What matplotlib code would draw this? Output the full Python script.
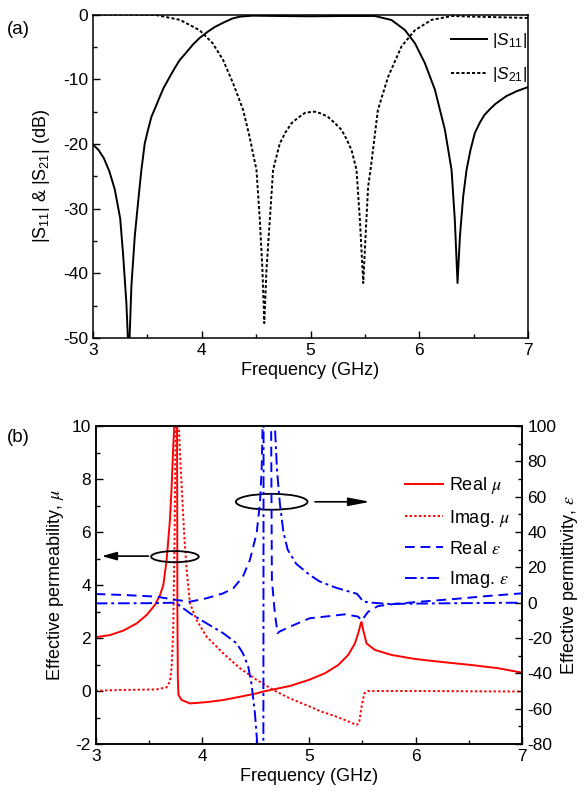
import matplotlib
matplotlib.use("Agg")
import matplotlib.pyplot as plt
from matplotlib.patches import Ellipse
from matplotlib.ticker import MultipleLocator

plt.rcParams['font.family'] = ['Liberation Sans', 'DejaVu Sans']
plt.rcParams['mathtext.fontset'] = 'custom'
plt.rcParams['mathtext.rm'] = 'Liberation Sans'
plt.rcParams['mathtext.it'] = 'Liberation Sans:italic'
plt.rcParams['axes.unicode_minus'] = False

# ---------------- (a) S-parameters ----------------
s11_f = [3.0, 3.05, 3.1, 3.15, 3.2, 3.25, 3.276, 3.307, 3.322, 3.337, 3.353, 3.384, 3.414,
         3.445, 3.476, 3.5, 3.537, 3.57, 3.614, 3.65, 3.706, 3.75, 3.798, 3.85, 3.92, 3.98,
         4.058, 4.12, 4.196, 4.28, 4.35, 4.47, 4.7, 5.0, 5.3, 5.59, 5.745, 5.868, 5.96, 6.052,
         6.144, 6.236, 6.297, 6.327, 6.352, 6.374, 6.404, 6.435, 6.47, 6.511, 6.56, 6.6, 6.65,
         6.7, 6.8, 6.9, 7.0]
s11_db = [-20.1, -20.9, -22.2, -24.2, -27.0, -31.5, -36.9, -44.6, -50.5, -49.8, -42.0, -34.3, -29.1,
          -24.0, -19.9, -18.2, -15.8, -14.5, -12.7, -11.3, -9.6, -8.3, -7.0, -6.0, -4.6, -3.6,
          -2.6, -1.9, -1.25, -0.6, -0.3, -0.15, -0.2, -0.25, -0.2, -0.2, -0.82, -2.37, -4.4, -7.5,
          -11.6, -17.8, -24.0, -31.7, -41.5, -34.3, -28.1, -24.0, -21.0, -18.3, -16.6, -15.5, -14.6,
          -13.8, -12.6, -11.8, -11.2]

s21_f = [3.0, 3.3, 3.58, 3.80, 3.98, 4.10, 4.196, 4.288, 4.38, 4.44, 4.503, 4.534, 4.558,
         4.575, 4.595, 4.626, 4.656, 4.718, 4.77, 4.825, 4.88, 4.948, 5.0, 5.04, 5.1, 5.16,
         5.22, 5.285, 5.33, 5.377, 5.423, 5.454, 5.485, 5.506, 5.53, 5.552, 5.62, 5.714,
         5.837, 5.96, 6.113, 6.3, 6.5, 7.0]
s21_db = [0.0, 0.0, -0.05, -0.8, -2.4, -4.4, -7.0, -10.6, -14.7, -18.9, -24.0, -31.7, -39.5,
          -47.7, -39.5, -31.7, -24.0, -19.9, -18.2, -16.8, -16.0, -15.2, -15.05, -15.0, -15.3, -15.8,
          -16.7, -17.8, -19.2, -20.9, -24.0, -31.7, -41.5, -34.3, -26.6, -24.0, -14.7, -9.6,
          -4.9, -2.4, -0.8, -0.2, -0.3, -0.5]

# ---------------- (b) effective parameters ----------------
rmu_f = [3.0, 3.134, 3.259, 3.384, 3.478, 3.556, 3.603, 3.634, 3.665, 3.696, 3.712, 3.727,
         3.737, 3.75, 3.762, 3.766, 3.770, 3.776, 3.806, 3.884, 4.04, 4.196, 4.35, 4.509,
         4.571, 4.821, 5.0, 5.149, 5.274, 5.367, 5.43, 5.461, 5.487, 5.493, 5.508, 5.54,
         5.618, 5.774, 5.993, 6.21, 6.524, 6.773, 7.0]
rmu = [2.03, 2.11, 2.28, 2.55, 2.87, 3.25, 3.62, 4.0, 4.94, 6.45, 7.71, 9.22,
       10.0, 14.0, 12.0, 3.0, 0.5, -0.15, -0.34, -0.47, -0.42, -0.34, -0.22, -0.09,
       -0.02, 0.19, 0.42, 0.67, 0.98, 1.36, 1.79, 2.17, 2.57, 2.6, 2.30, 1.79,
       1.55, 1.36, 1.21, 1.11, 0.98, 0.86, 0.69]

imu_f = [3.0, 3.26, 3.57, 3.665, 3.696, 3.712, 3.727, 3.74, 3.755, 3.77, 3.79, 3.806, 3.831,
         3.853, 3.884, 3.946, 4.04, 4.196, 4.352, 4.509, 4.665, 4.821, 5.008, 5.118, 5.274,
         5.446, 5.47, 5.493, 5.518, 5.555, 6.0, 7.0]
imu = [0.01, 0.04, 0.06, 0.14, 0.35, 0.92, 2.3, 6.0, 12.0, 11.0, 8.97, 7.71, 5.82,
       4.57, 3.31, 2.68, 2.05, 1.42, 0.86, 0.42, 0.04, -0.28, -0.59, -0.78, -0.99,
       -1.28, -1.2, -0.59, -0.09, 0.0, 0.0, -0.02]

reps_f = [3.0, 3.26, 3.57, 3.76, 3.884, 4.04, 4.196, 4.29, 4.38, 4.446, 4.509, 4.54, 4.556,
          4.565, 4.6, 4.645, 4.652, 4.68, 4.705, 4.72, 4.821, 5.008, 5.149, 5.336, 5.461,
          5.493, 5.555, 5.649, 5.805, 6.055, 6.367, 6.68, 7.0]
reps = [4.9, 4.36, 3.4, 1.5, 0.57, 2.5, 5.3, 8.15, 14.7, 24.2, 39.3, 56.3, 75.1,
        100.0, 130.0, 100.0, 12.8, -6.0, -17.3, -16.5, -13.6, -8.8, -7.9, -6.6, -7.9,
        -10.2, -5.1, -1.9, -0.7, 0.6, 2.1, 3.8, 5.3]

ieps_f = [3.0, 3.5, 3.75, 3.884, 4.04, 4.196, 4.321, 4.38, 4.43, 4.46, 4.493, 4.515, 4.53,
          4.571, 4.575, 4.62, 4.68, 4.70, 4.727, 4.76, 4.80, 4.88, 5.0, 5.1, 5.25, 5.45,
          5.51, 5.59, 5.743, 6.21, 7.0]
ieps = [-0.4, -0.3, 0.0, -6.0, -11.7, -17.3, -23.0, -28.6, -36.2, -45.6, -62.6, -80.0, -200.0,
        -200.0, 200.0, 200.0, 100.0, 75.0, 56.0, 40.0, 30.0, 22.0, 16.0, 12.0, 8.5, 5.0,
        0.6, 0.0, -0.7, -0.4, 0.0]

fig = plt.figure(figsize=(5.84, 8.0), dpi=100)

FS = 12.5
LW = 1.4

# ---------- top panel ----------
ax1 = fig.add_axes([93 / 584, 1 - 338 / 800, 435 / 584, (338 - 14.7) / 800])
ax1.plot(s11_f, s11_db, color='black', lw=LW, label='|$S_{11}$|')
ax1.plot(s21_f, s21_db, color='black', lw=LW, dashes=(1.6, 1.1), label='|$S_{21}$|')
ax1.set_xlim(3, 7)
ax1.set_ylim(-50, 0)
ax1.xaxis.set_major_locator(MultipleLocator(1))
ax1.xaxis.set_minor_locator(MultipleLocator(0.5))
ax1.yaxis.set_major_locator(MultipleLocator(10))
ax1.yaxis.set_minor_locator(MultipleLocator(5))
ax1.tick_params(which='both', direction='in', labelsize=FS, width=1.0)
ax1.tick_params(which='major', length=5)
ax1.tick_params(which='minor', length=3)
for s in ax1.spines.values():
    s.set_linewidth(1.1)
ax1.set_xlabel('Frequency (GHz)', fontsize=FS + 0.5, labelpad=3)
ax1.set_ylabel('|S$_{11}$| & |S$_{21}$| (dB)', fontsize=FS + 0.5, labelpad=8)
leg1 = ax1.legend(loc='upper left', bbox_to_anchor=(442 / 584, 1 - 22 / 800),
                  bbox_transform=fig.transFigure, frameon=False, fontsize=FS,
                  handlelength=2.1, handletextpad=0.3, labelspacing=0.9, borderpad=0)
fig.text(0.012, 0.958, '(a)', fontsize=FS + 1)

# ---------- bottom panel ----------
ax2 = fig.add_axes([95.7 / 584, 1 - 744 / 800, (522.3 - 95.7) / 584, (744 - 426) / 800])
ax3 = ax2.twinx()
l1, = ax2.plot(rmu_f, rmu, color='red', lw=LW, label='Real $\\mu$')
l2, = ax2.plot(imu_f, imu, color='red', lw=LW, dashes=(1.2, 1.2), label='Imag. $\\mu$')
l3, = ax3.plot(reps_f, reps, color='blue', lw=LW, dashes=(5, 3), label='Real $\\varepsilon$')
l4, = ax3.plot(ieps_f, ieps, color='blue', lw=LW, dashes=(6, 2, 1.5, 2), label='Imag. $\\varepsilon$')
ax2.set_xlim(3, 7)
ax2.set_ylim(-2, 10)
ax3.set_ylim(-80, 100)
ax2.xaxis.set_major_locator(MultipleLocator(1))
ax2.xaxis.set_minor_locator(MultipleLocator(0.5))
ax2.yaxis.set_major_locator(MultipleLocator(2))
ax2.yaxis.set_minor_locator(MultipleLocator(1))
ax3.yaxis.set_major_locator(MultipleLocator(20))
ax3.yaxis.set_minor_locator(MultipleLocator(10))
for a in (ax2, ax3):
    a.tick_params(which='both', direction='in', labelsize=FS, width=1.0)
    a.tick_params(which='major', length=5)
    a.tick_params(which='minor', length=3)
    for s in a.spines.values():
        s.set_linewidth(1.1)
ax2.set_xlabel('Frequency (GHz)', fontsize=FS + 0.5, labelpad=3)
yl2 = ax2.set_ylabel('Effective permeability, $\\mu$', fontsize=FS + 0.5, labelpad=4)
yl3 = ax3.set_ylabel('Effective permittivity, $\\varepsilon$', fontsize=FS + 0.5, labelpad=2)
yl2.set_math_fontfamily('stix')
yl3.set_math_fontfamily('stix')

# ellipses and arrows
ax2.add_patch(Ellipse((3.743, 5.07), 0.447, 0.42, fill=False, edgecolor='black', lw=1.3, zorder=5))
ax2.add_patch(Ellipse((4.65, 7.14), 0.672, 0.6, fill=False, edgecolor='black', lw=1.3, zorder=5))
ax2.annotate('', xy=(3.03, 5.09), xytext=(3.52, 5.09),
             arrowprops=dict(arrowstyle='-|>,head_length=0.9,head_width=0.25', color='black', lw=1.2))
ax2.annotate('', xy=(5.60, 7.14), xytext=(5.03, 7.14),
             arrowprops=dict(arrowstyle='-|>,head_length=1.3,head_width=0.25', color='black', lw=1.2))

leg2 = ax3.legend(handles=[l1, l2, l3, l4], loc='upper left', bbox_to_anchor=(396 / 584, 1 - 466 / 800),
                  bbox_transform=fig.transFigure, frameon=False, fontsize=FS + 0.5,
                  handlelength=2.1, handletextpad=0.35, labelspacing=0.65, borderpad=0)
for t in leg2.get_texts():
    t.set_math_fontfamily('stix')
fig.text(0.012, 0.448, '(b)', fontsize=FS + 1)

fig.savefig('out.png', dpi=100)
